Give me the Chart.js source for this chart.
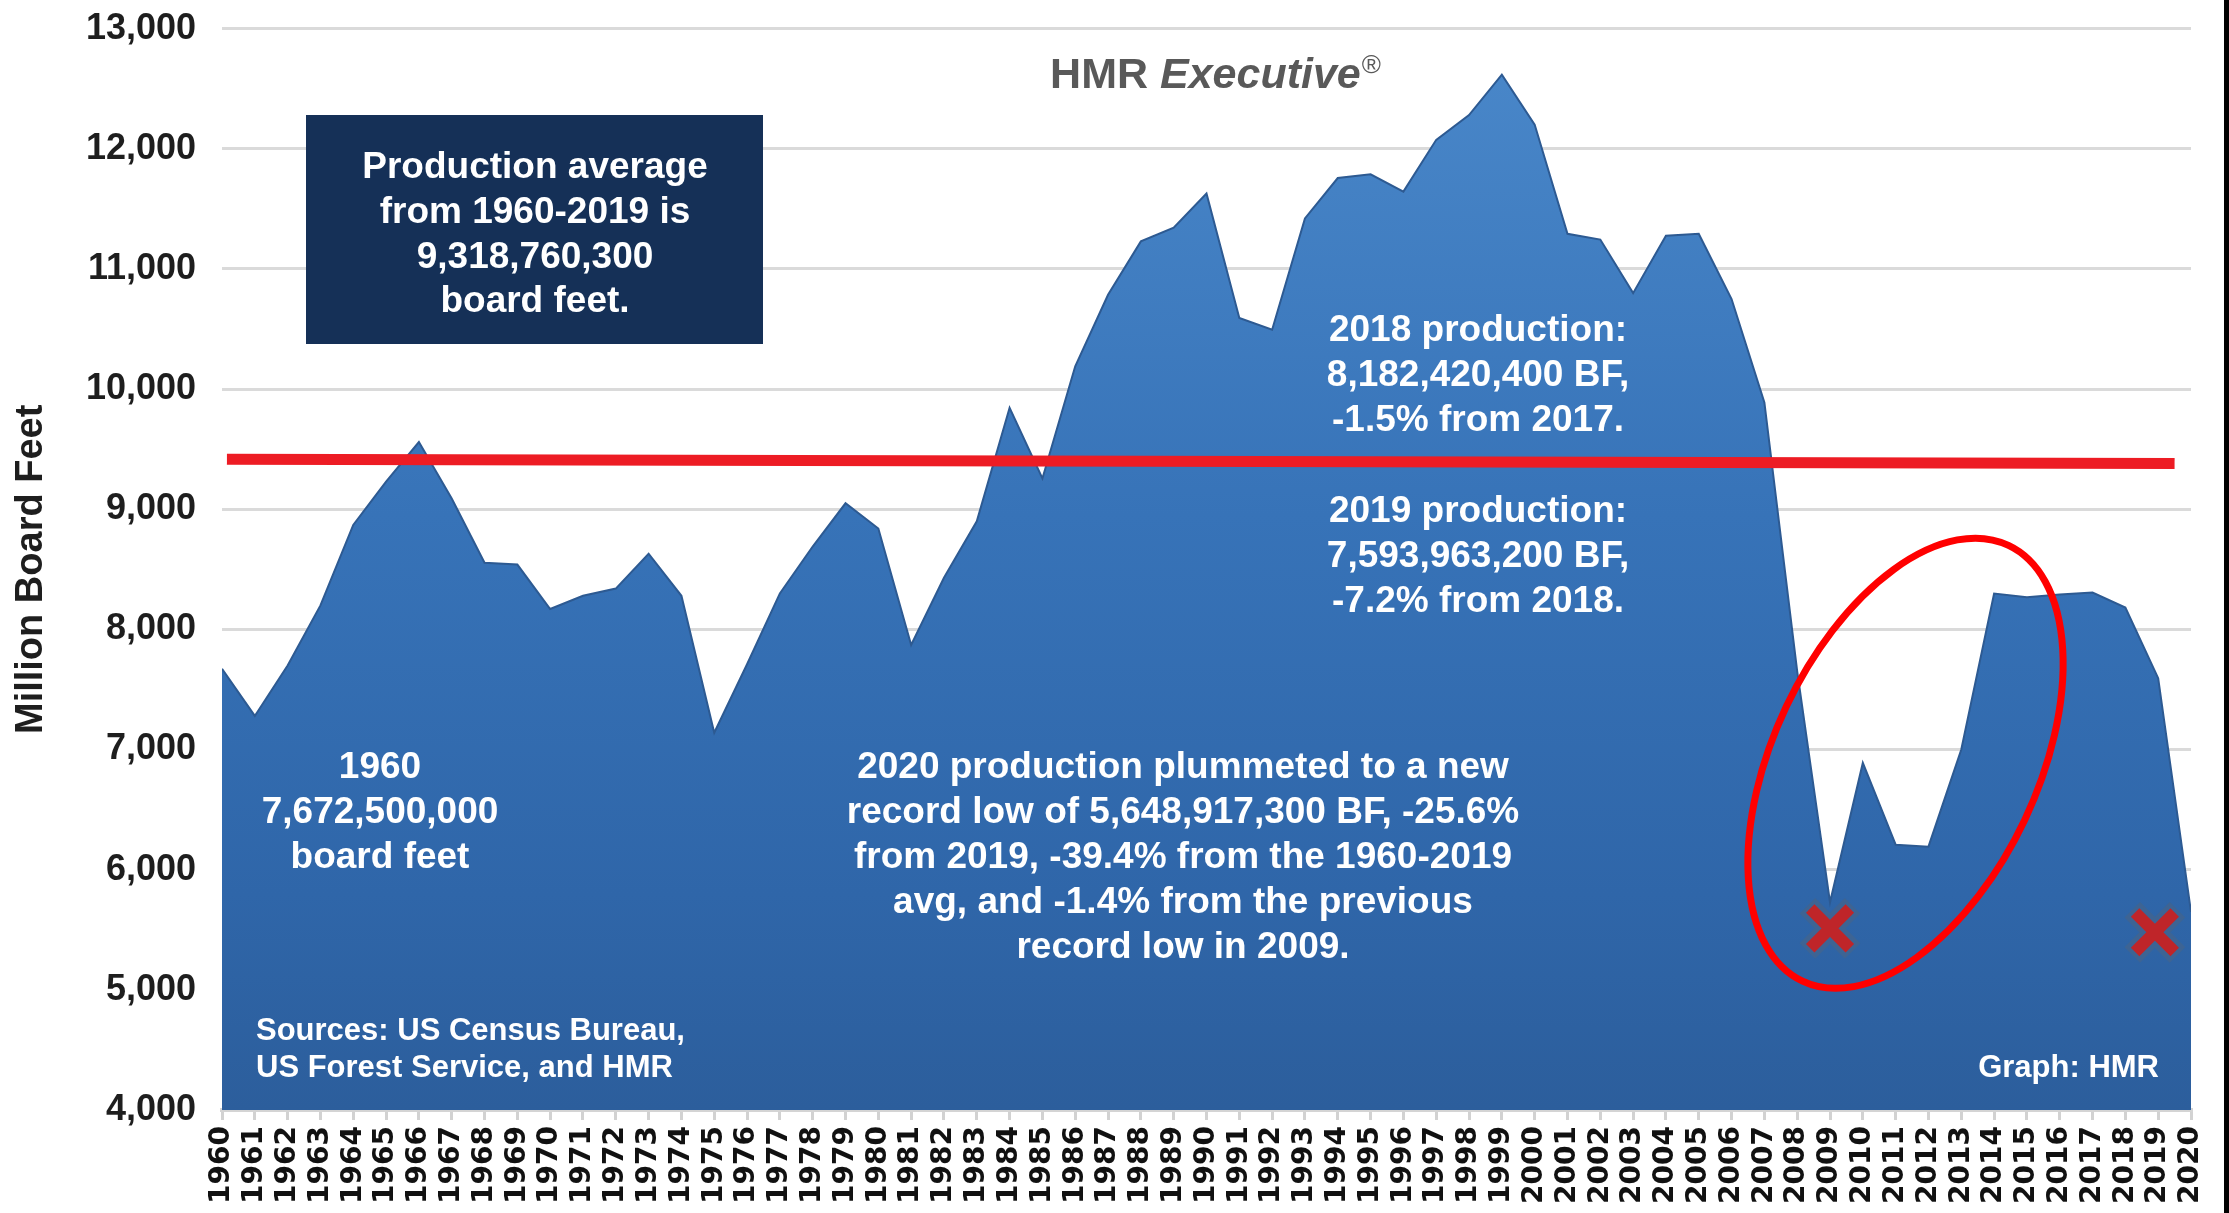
<!DOCTYPE html>
<html><head><meta charset="utf-8">
<script src="https://cdn.jsdelivr.net/npm/chart.js@4"></script>
<style>
html,body{margin:0;padding:0;background:#fff;}
#wrap{position:relative;width:2229px;height:1213px;overflow:hidden;background:#fff;}
#edge{position:absolute;right:0;top:0;width:5px;height:1213px;background:#000;}
canvas{position:absolute;left:0;top:0;}
</style></head><body>
<div id="wrap"><canvas id="c" width="2224" height="1213"></canvas><div id="edge"></div></div>
<script>
// ---- data ----
const years = [1960,1961,1962,1963,1964,1965,1966,1967,1968,1969,
  1970,1971,1972,1973,1974,1975,1976,1977,1978,1979,
  1980,1981,1982,1983,1984,1985,1986,1987,1988,1989,
  1990,1991,1992,1993,1994,1995,1996,1997,1998,1999,
  2000,2001,2002,2003,2004,2005,2006,2007,2008,2009,
  2010,2011,2012,2013,2014,2015,2016,2017,2018,2019,2020];
const yearLabels = years.map(String);
const production = [7672,7280,7700,8200,8870,9230,9560,9090,8555,8540,
  8170,8280,8340,8630,8280,7140,7710,8300,8690,9050,
  8840,7870,8430,8900,9845,9256,10190,10785,11230,11343,
  11628,10592,10495,11421,11757,11788,11644,12075,12281,12617,
  12202,11293,11245,10799,11277,11293,10750,9890,7650,5729,
  6889,6208,6192,7000,8298,8268,8290,8307,8182,7594,5649];
const yTickValues = [4000,5000,6000,7000,8000,9000,10000,11000,12000,13000];
const avgLineYears = [1960.15, 2019.5];
const avgLineValues = [9416, 9381];
const lowMarkerYears = [2009, 2018.9];
const lowMarkerValues = [5512, 5479];
const ellipseCenterYear = 2011.3;
const ellipseCenterValue = 6886;

const titleText = ['HMR ', 'Executive', '®'];
const yAxisTitle = 'Million Board Feet';
const boxLines = ['Production average', 'from 1960-2019 is', '9,318,760,300', 'board feet.'];
const note2018 = ['2018 production:', '8,182,420,400 BF,', '-1.5% from 2017.'];
const note2019 = ['2019 production:', '7,593,963,200 BF,', '-7.2% from 2018.'];
const note1960 = ['1960', '7,672,500,000', 'board feet'];
const note2020 = ['2020 production plummeted to a new', 'record low of 5,648,917,300 BF, -25.6%',
  'from 2019, -39.4% from the 1960-2019', 'avg, and -1.4% from the previous', 'record low in 2009.'];
const sourcesLines = ['Sources: US Census Bureau,', 'US Forest Service, and HMR'];
const graphCredit = 'Graph: HMR';

const FONT = '"Liberation Sans", Arial, Helvetica, sans-serif';

function areaGradient(context) {
  const chart = context.chart;
  const ca = chart.chartArea;
  if (!ca) return '#3a75b8';
  const g = chart.ctx.createLinearGradient(0, ca.top, 0, ca.bottom);
  g.addColorStop(0, '#4a88ca');
  g.addColorStop(0.45, '#3773b8');
  g.addColorStop(0.8, '#2f66a9');
  g.addColorStop(1, '#2c5e9c');
  return g;
}

function drawLines(ctx, lines, x, y0, dy, align, font, color) {
  ctx.save();
  ctx.font = font;
  ctx.fillStyle = color;
  ctx.textAlign = align;
  ctx.textBaseline = 'middle';
  lines.forEach((t, i) => ctx.fillText(t, x, y0 + i * dy));
  ctx.restore();
}

const annotationPlugin = {
  id: 'annotations',
  afterDatasetsDraw(chart) {
    const ctx = chart.ctx;
    const xs = chart.scales.x, ys = chart.scales.y;
    // red ellipse
    ctx.save();
    ctx.beginPath();
    ctx.ellipse(xs.getPixelForValue(ellipseCenterYear), ys.getPixelForValue(ellipseCenterValue),
      132, 241, 25.3 * Math.PI / 180, 0, Math.PI * 2);
    ctx.strokeStyle = '#ff0000';
    ctx.lineWidth = 7;
    ctx.stroke();
    ctx.restore();

    // dark box
    ctx.save();
    ctx.fillStyle = '#153057';
    ctx.fillRect(306, 115, 457, 229);
    ctx.restore();
    const bold37 = 'bold 37px ' + FONT;
    drawLines(ctx, boxLines, 535, 168, 44.7, 'center', bold37, '#ffffff');
    drawLines(ctx, note2018, 1478, 331, 45, 'center', bold37, '#ffffff');
    drawLines(ctx, note2019, 1478, 512, 45, 'center', bold37, '#ffffff');
    drawLines(ctx, note1960, 380, 768, 45, 'center', bold37, '#ffffff');
    drawLines(ctx, note2020, 1183, 768, 45, 'center', bold37, '#ffffff');
    drawLines(ctx, sourcesLines, 256, 1031, 37, 'left', 'bold 31px ' + FONT, '#ffffff');
    drawLines(ctx, [graphCredit], 2159, 1068, 37, 'right', 'bold 31px ' + FONT, '#ffffff');

    // title
    ctx.save();
    ctx.fillStyle = '#595959';
    ctx.textBaseline = 'alphabetic';
    const f1 = 'bold 43px ' + FONT, f2 = 'italic bold 43px ' + FONT, f3 = '26px ' + FONT;
    ctx.font = f1; const w1 = ctx.measureText(titleText[0]).width;
    ctx.font = f2; const w2 = ctx.measureText(titleText[1]).width;
    ctx.font = f3; const w3 = ctx.measureText(titleText[2]).width;
    let x = 1215 - (w1 + w2 + w3) / 2;
    const by = 88;
    ctx.textAlign = 'left';
    ctx.font = f1; ctx.fillText(titleText[0], x, by); x += w1;
    ctx.font = f2; ctx.fillText(titleText[1], x, by); x += w2 + 1;
    ctx.font = f3; ctx.fillText(titleText[2], x, by - 15);
    ctx.restore();
  }
};

new Chart(document.getElementById('c'), {
  type: 'line',
  data: {
    datasets: [
      {
        label: 'Production',
        data: years.map((yr, i) => ({ x: yr, y: production[i] })),
        fill: 'start',
        backgroundColor: areaGradient,
        borderColor: '#2d5a92',
        borderWidth: 2,
        pointRadius: 0,
        tension: 0,
        order: 4
      },
      {
        label: 'Average',
        data: avgLineYears.map((yr, i) => ({ x: yr, y: avgLineValues[i] })),
        fill: false,
        borderColor: '#ed1c24',
        borderWidth: 11,
        pointRadius: 0,
        order: 3
      },
      {
        label: 'Low outline',
        data: lowMarkerYears.map((yr, i) => ({ x: yr, y: lowMarkerValues[i] })),
        showLine: false,
        pointStyle: 'crossRot',
        pointRadius: 32,
        pointBorderWidth: 22,
        pointBorderColor: '#3d6494',
        pointBackgroundColor: 'rgba(0,0,0,0)',
        clip: false,
        order: 2
      },
      {
        label: 'Low',
        data: lowMarkerYears.map((yr, i) => ({ x: yr, y: lowMarkerValues[i] })),
        showLine: false,
        pointStyle: 'crossRot',
        pointRadius: 28,
        pointBorderWidth: 12,
        pointBorderColor: '#bf2529',
        pointBackgroundColor: 'rgba(0,0,0,0)',
        clip: false,
        order: 1
      }
    ]
  },
  options: {
    responsive: false,
    devicePixelRatio: 1,
    animation: false,
    events: [],
    layout: { autoPadding: false, padding: { top: 28.7, right: 33, bottom: 0, left: 0 } },
    plugins: { legend: { display: false }, tooltip: { enabled: false }, title: { display: false } },
    scales: {
      x: {
        type: 'linear',
        min: 1960,
        max: 2020,
        afterFit(scale) { scale.height = 103; scale.paddingLeft = 0; scale.paddingRight = 0; scale.paddingTop = 0; scale.paddingBottom = 0; },
        afterBuildTicks(scale) { scale.ticks = years.map(v => ({ value: v })); },
        ticks: {
          autoSkip: false,
          minRotation: 90,
          maxRotation: 90,
          padding: 6,
          color: '#111111',
          font: { family: '"DejaVu Sans", Verdana, sans-serif', weight: 'bold', size: 28 },
          callback(value) { return yearLabels[years.indexOf(value)]; }
        },
        grid: { drawOnChartArea: false, drawTicks: true, tickLength: 10, color: '#d2d2d2', lineWidth: 3 },
        border: { display: true, color: '#d4d4d4', width: 4 }
      },
      y: {
        type: 'linear',
        min: 4000,
        max: 13000,
        afterFit(scale) { scale.width = 222; scale.paddingTop = 0; scale.paddingBottom = 0; scale.paddingLeft = 0; scale.paddingRight = 0; },
        afterBuildTicks(scale) { scale.ticks = yTickValues.map(v => ({ value: v })); },
        ticks: {
          padding: 26,
          color: '#1e1e1e',
          font: { family: FONT, weight: 'bold', size: 36 },
          callback(value) { return value.toLocaleString('en-US'); }
        },
        grid: { color: '#dadada', lineWidth: 3, drawTicks: false },
        border: { display: false },
        title: {
          display: true,
          text: yAxisTitle,
          color: '#1e1e1e',
          font: { family: FONT, weight: 'bold', size: 38 },
          padding: { top: 9, bottom: 0 }
        }
      }
    }
  },
  plugins: [annotationPlugin]
});
</script>
</body></html>
